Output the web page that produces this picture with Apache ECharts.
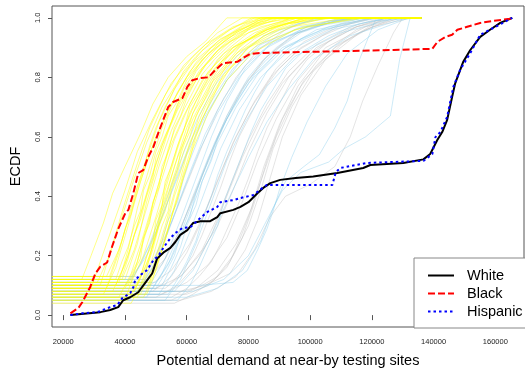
<!DOCTYPE html>
<html>
<head>
<meta charset="utf-8">
<script src="https://cdn.jsdelivr.net/npm/echarts@6/dist/echarts.min.js"></script>
<style>
html,body{margin:0;padding:0;background:#fff;}
#chart{width:525px;height:373px;}
</style>
</head>
<body>
<div id="chart"></div>
<script>
// x values are in thousands (potential demand / 1000)
const xTicks = [20, 40, 60, 80, 100, 120, 140, 160];
const yTicks = [0, 0.2, 0.4, 0.6, 0.8, 1.0];
const legendNames = ['White', 'Black', 'Hispanic'];

const whiteEcdf = [[22.3,0],[32,0.01],[35.2,0.017],[37.8,0.027],[39.4,0.05],[41.7,0.06],[44.3,0.077],[47.2,0.118],[48.8,0.14],[50.4,0.19],[52.4,0.21],[54.7,0.226],[56.3,0.246],[57.9,0.27],[60.2,0.286],[62.1,0.31],[64.4,0.316],[67.6,0.316],[69.9,0.33],[70.9,0.343],[75.1,0.354],[77.4,0.364],[80,0.38],[82.9,0.41],[84.8,0.428],[87.1,0.444],[90.3,0.455],[95.3,0.461],[101,0.466],[108.8,0.478],[117.2,0.495],[119.5,0.505],[130.2,0.512],[136.7,0.524],[138.9,0.542],[141.2,0.589],[142.8,0.616],[144.4,0.657],[146,0.734],[147,0.78],[149.6,0.852],[151.9,0.892],[155.1,0.936],[158.3,0.96],[161.6,0.983],[164.8,0.997],[165.5,1]];

const blackEcdf = [[22.3,0.006],[24.9,0.024],[26.2,0.044],[28.7,0.094],[30.4,0.14],[32,0.163],[34.2,0.177],[35.8,0.23],[37.8,0.29],[40.1,0.343],[41.1,0.354],[42.7,0.41],[44.3,0.478],[45.9,0.488],[47.5,0.532],[49.2,0.566],[50.8,0.613],[52.4,0.657],[54,0.70],[55.6,0.717],[58.6,0.73],[60.2,0.768],[61.8,0.79],[64.4,0.798],[67,0.80],[69.3,0.825],[71.8,0.848],[76.4,0.852],[78.3,0.865],[80.6,0.879],[83.8,0.882],[127,0.892],[139.6,0.896],[141.2,0.919],[143.8,0.936],[146,0.943],[147.7,0.96],[150.9,0.97],[155.1,0.983],[159.3,0.99],[164.8,0.997],[165.5,1]];

const hispanicEcdf = [[22.3,0],[26.2,0.006],[31,0.01],[35.2,0.027],[37.5,0.034],[39.1,0.057],[41.7,0.074],[42.7,0.094],[43.3,0.118],[45,0.135],[47.2,0.152],[49.2,0.185],[50.8,0.199],[52.4,0.226],[54.7,0.259],[56.3,0.276],[58.6,0.293],[61.2,0.296],[64.4,0.327],[66.7,0.347],[69.9,0.364],[70.9,0.38],[75.1,0.387],[77.4,0.394],[81.6,0.404],[84.8,0.43],[86,0.438],[107.2,0.438],[108.3,0.481],[109.8,0.495],[118.5,0.512],[136.7,0.519],[139.6,0.542],[140.6,0.599],[142.2,0.616],[144.4,0.667],[146.4,0.768],[148.6,0.825],[151.9,0.882],[155.1,0.943],[159.3,0.966],[163.2,0.987],[164.8,0.997],[165.5,1]];

const yellowRuns = [
 [[16.3,0.12],[26,0.12],[29,0.2],[33,0.31],[36,0.41],[40,0.5],[45,0.61],[49,0.71],[54,0.8],[60,0.87],[66,0.92],[73,1],[136,1]],
 [[16.3,0.09],[29,0.09],[32,0.18],[36,0.3],[40,0.42],[44,0.55],[49,0.66],[55,0.78],[62,0.87],[70,0.95],[78,1],[136,1]],
 [[16.3,0.11],[31,0.11],[35,0.2],[39,0.33],[43,0.46],[47,0.58],[52,0.7],[58,0.8],[65,0.89],[74,0.96],[82,1],[136,1]],
 [[16.3,0.07],[33,0.07],[37,0.16],[41,0.3],[45,0.45],[49,0.57],[54,0.69],[60,0.8],[67,0.88],[76,0.95],[85,1],[136,1]],
 [[16.3,0.13],[34,0.13],[38,0.22],[42,0.35],[46,0.48],[50,0.6],[55,0.71],[61,0.82],[68,0.9],[77,0.96],[88,1],[136,1]],
 [[16.3,0.08],[36,0.08],[40,0.17],[44,0.3],[48,0.44],[52,0.57],[57,0.69],[63,0.8],[70,0.89],[80,0.96],[90,1],[136,1]],
 [[16.3,0.1],[37,0.1],[41,0.2],[45,0.34],[49,0.48],[53,0.6],[58,0.72],[64,0.82],[71,0.9],[81,0.97],[92,1],[136,1]],
 [[16.3,0.06],[38,0.06],[42,0.14],[46,0.27],[50,0.41],[54,0.55],[59,0.67],[65,0.79],[72,0.88],[82,0.95],[94,1],[136,1]],
 [[16.3,0.12],[39,0.12],[43,0.22],[47,0.36],[51,0.5],[55,0.62],[60,0.74],[66,0.84],[74,0.92],[84,0.97],[96,1],[136,1]],
 [[16.3,0.09],[40,0.09],[44,0.18],[48,0.32],[52,0.46],[56,0.59],[61,0.71],[67,0.82],[75,0.9],[86,0.96],[98,1],[136,1]],
 [[16.3,0.05],[41,0.05],[45,0.13],[49,0.26],[53,0.4],[57,0.53],[62,0.66],[68,0.78],[76,0.88],[87,0.95],[100,1],[136,1]],
 [[16.3,0.11],[42,0.11],[46,0.2],[50,0.33],[54,0.47],[58,0.6],[63,0.72],[69,0.83],[77,0.91],[88,0.97],[102,1],[136,1]],
 [[16.3,0.08],[43,0.08],[47,0.17],[51,0.3],[55,0.44],[59,0.57],[64,0.69],[70,0.8],[78,0.89],[90,0.96],[105,1],[136,1]],
 [[16.3,0.1],[44,0.1],[48,0.2],[52,0.35],[56,0.5],[60,0.63],[65,0.75],[71,0.85],[79,0.92],[92,0.98],[108,1],[136,1]],
 [[16.3,0.07],[45,0.07],[49,0.16],[53,0.3],[57,0.45],[61,0.58],[66,0.7],[72,0.81],[80,0.9],[94,0.97],[112,1],[136,1]],
 [[16.3,0.13],[35,0.13],[39,0.25],[43,0.4],[47,0.53],[51,0.65],[56,0.76],[62,0.85],[70,0.92],[79,0.98],[86,1],[136,1]],
 [[16.3,0.06],[46,0.06],[50,0.15],[54,0.29],[58,0.43],[62,0.56],[67,0.68],[73,0.79],[81,0.88],[95,0.96],[115,1],[136,1]],
 [[16.3,0.1],[32,0.1],[36,0.24],[40,0.38],[44,0.51],[48,0.63],[53,0.74],[59,0.84],[66,0.91],[75,0.97],[84,1],[136,1]],
 [[16.3,0.09],[47,0.09],[51,0.19],[55,0.33],[59,0.48],[63,0.61],[68,0.73],[74,0.83],[83,0.91],[98,0.97],[118,1],[136,1]],
 [[16.3,0.12],[40,0.12],[44,0.24],[47,0.38],[51,0.52],[55,0.65],[59,0.76],[65,0.86],[73,0.93],[83,0.98],[95,1],[136,1]],
 [[16.3,0.04],[42,0.04],[46,0.12],[50,0.27],[53,0.42],[57,0.56],[61,0.68],[67,0.8],[75,0.9],[86,0.96],[99,1],[136,1]],
 [[16.3,0.11],[38,0.11],[41,0.22],[44,0.36],[48,0.5],[52,0.63],[57,0.75],[63,0.85],[71,0.93],[81,0.98],[90,1],[136,1]],
 [[16.3,0.1],[41,0.1],[43,0.15],[45,0.19],[46,0.26],[48,0.31],[49,0.38],[51,0.43],[52,0.5],[54,0.55],[56,0.63],[58,0.67],[60,0.73],[63,0.79],[65,0.83],[69,0.88],[73,0.92],[79,0.96],[86,1],[136,1]],
 [[16.3,0.08],[43,0.08],[45,0.13],[47,0.2],[49,0.24],[50,0.32],[52,0.37],[53,0.45],[55,0.5],[57,0.57],[59,0.62],[61,0.7],[64,0.75],[67,0.81],[70,0.86],[74,0.9],[80,0.95],[88,0.98],[94,1],[136,1]],
 [[16.3,0.12],[37,0.12],[39,0.18],[41,0.23],[43,0.3],[45,0.35],[46,0.42],[48,0.47],[50,0.55],[52,0.6],[54,0.67],[57,0.72],[60,0.79],[63,0.83],[67,0.88],[72,0.93],[78,0.97],[84,1],[136,1]],
 [[16.3,0.06],[44,0.06],[46,0.11],[48,0.16],[50,0.23],[52,0.3],[54,0.35],[55,0.42],[57,0.48],[59,0.55],[61,0.6],[63,0.67],[66,0.73],[69,0.8],[73,0.85],[77,0.9],[83,0.95],[91,0.98],[100,1],[136,1]],
 [[16.3,0.1],[45,0.1],[47,0.16],[49,0.22],[51,0.3],[53,0.35],[55,0.43],[57,0.49],[58,0.55],[60,0.61],[62,0.68],[65,0.73],[68,0.79],[71,0.84],[75,0.89],[80,0.93],[87,0.97],[96,1],[136,1]],
 [[16.3,0.13],[39,0.13],[41,0.19],[43,0.27],[45,0.32],[47,0.4],[49,0.46],[50,0.53],[52,0.58],[55,0.65],[57,0.71],[60,0.76],[63,0.82],[67,0.87],[71,0.91],[76,0.95],[83,0.99],[88,1],[136,1]],
 [[16.3,0.07],[47,0.07],[49,0.12],[51,0.19],[53,0.25],[55,0.33],[57,0.39],[59,0.47],[61,0.53],[63,0.6],[65,0.66],[68,0.72],[71,0.79],[75,0.84],[79,0.89],[85,0.94],[93,0.98],[103,1],[136,1]],
 [[16.3,0.09],[34,0.09],[36,0.15],[38,0.21],[40,0.29],[42,0.34],[44,0.43],[46,0.49],[48,0.57],[50,0.63],[53,0.7],[56,0.76],[59,0.82],[63,0.87],[68,0.92],[74,0.96],[81,1],[136,1]],
 [[16.3,0.11],[48,0.11],[50,0.18],[52,0.25],[54,0.32],[56,0.4],[58,0.46],[60,0.54],[62,0.6],[64,0.67],[67,0.73],[70,0.79],[73,0.84],[77,0.89],[82,0.93],[89,0.97],[98,1],[136,1]],
 [[16.3,0.05],[40,0.05],[42,0.11],[44,0.18],[46,0.26],[48,0.33],[50,0.41],[52,0.48],[54,0.56],[56,0.62],[59,0.69],[62,0.75],[65,0.81],[69,0.86],[74,0.91],[80,0.96],[88,1],[136,1]]
];

const blueRuns = [
 [[16.3,0.1],[40,0.1],[45,0.17],[50,0.28],[55,0.41],[60,0.54],[66,0.67],[73,0.79],[82,0.89],[95,0.96],[110,1],[136,1]],
 [[16.3,0.08],[44,0.08],[49,0.16],[54,0.28],[59,0.42],[64,0.55],[70,0.68],[77,0.8],[86,0.9],[99,0.97],[115,1],[136,1]],
 [[16.3,0.12],[42,0.12],[47,0.2],[52,0.33],[57,0.47],[62,0.6],[68,0.72],[75,0.83],[84,0.91],[97,0.97],[112,1],[136,1]],
 [[16.3,0.06],[47,0.06],[52,0.14],[57,0.26],[62,0.4],[67,0.53],[73,0.66],[80,0.78],[89,0.88],[102,0.96],[120,1],[136,1]],
 [[16.3,0.11],[46,0.11],[51,0.2],[56,0.34],[61,0.48],[66,0.61],[72,0.73],[79,0.84],[88,0.92],[101,0.97],[118,1],[136,1]],
 [[16.3,0.09],[49,0.09],[54,0.17],[59,0.3],[64,0.44],[69,0.58],[75,0.7],[82,0.81],[91,0.9],[104,0.96],[122,1],[136,1]],
 [[16.3,0.07],[51,0.07],[56,0.15],[61,0.28],[66,0.42],[71,0.56],[77,0.69],[84,0.8],[93,0.89],[107,0.96],[125,1],[136,1]],
 [[16.3,0.13],[43,0.13],[48,0.24],[53,0.38],[58,0.52],[63,0.65],[69,0.77],[76,0.87],[85,0.94],[96,0.98],[106,1],[136,1]],
 [[16.3,0.05],[53,0.05],[58,0.12],[63,0.24],[68,0.38],[73,0.52],[79,0.65],[86,0.77],[95,0.87],[110,0.95],[128,1],[136,1]],
 [[16.3,0.1],[48,0.1],[53,0.19],[58,0.32],[63,0.46],[68,0.6],[73,0.72],[79,0.83],[87,0.91],[99,0.97],[114,1],[136,1]],
 [[16.3,0.08],[56,0.08],[62,0.15],[68,0.27],[74,0.4],[80,0.53],[86,0.65],[93,0.76],[101,0.86],[113,0.94],[131,1],[136,1]],
 [[16.3,0.1],[64,0.1],[75,0.11],[79.6,0.15],[83,0.22],[86,0.29],[88,0.35],[90,0.42],[94,0.53],[99,0.65],[105,0.77],[112,0.88],[122,0.96],[132,1],[136,1]],
 [[16.3,0.06],[60,0.06],[70,0.09],[78,0.15],[84,0.25],[88,0.36],[92,0.45],[98,0.5],[103,0.54],[108,0.63],[112,0.72],[116,0.86],[121,0.99],[136,1]],
 [[16.3,0.08],[62,0.08],[72,0.12],[80,0.2],[86,0.32],[91,0.42],[97,0.48],[106,0.515],[111,0.56],[118,0.6],[126,0.67],[129,0.86],[132.4,1],[136,1]],
 [[16.3,0.11],[50,0.11],[55,0.19],[60,0.31],[65,0.45],[70,0.58],[76,0.7],[83,0.81],[92,0.9],[105,0.96],[119,1],[136,1]],
 [[16.3,0.09],[50,0.09],[53,0.14],[56,0.2],[58,0.27],[61,0.33],[63,0.41],[65,0.47],[68,0.54],[70,0.6],[73,0.67],[76,0.73],[80,0.8],[84,0.85],[89,0.9],[96,0.95],[105,0.98],[116,1],[136,1]],
 [[16.3,0.12],[46,0.12],[49,0.18],[52,0.25],[54,0.32],[57,0.38],[59,0.46],[61,0.52],[64,0.6],[66,0.66],[69,0.72],[73,0.79],[77,0.85],[82,0.9],[88,0.94],[96,0.98],[104,1],[136,1]],
 [[16.3,0.07],[54,0.07],[57,0.12],[60,0.18],[63,0.25],[65,0.32],[68,0.4],[70,0.47],[73,0.55],[76,0.62],[79,0.69],[82,0.75],[86,0.82],[91,0.88],[97,0.93],[106,0.97],[117,1],[136,1]],
 [[16.3,0.1],[52,0.1],[55,0.16],[58,0.23],[60,0.3],[63,0.37],[65,0.45],[68,0.52],[70,0.59],[73,0.66],[76,0.72],[80,0.79],[85,0.85],[90,0.9],[97,0.95],[108,0.99],[113,1],[136,1]],
 [[16.3,0.05],[57,0.05],[61,0.1],[64,0.16],[67,0.23],[70,0.3],[72,0.38],[75,0.46],[78,0.54],[81,0.62],[84,0.69],[88,0.76],[92,0.83],[98,0.89],[106,0.94],[116,0.98],[126,1],[136,1]]
];

const greyRuns = [
 [[16.3,0.09],[50,0.09],[58,0.13],[64,0.2],[70,0.3],[75,0.42],[80,0.55],[86,0.68],[93,0.8],[102,0.9],[115,0.97],[128,1],[136,1]],
 [[16.3,0.07],[52,0.07],[60,0.11],[67,0.17],[73,0.26],[78,0.38],[83,0.52],[89,0.66],[96,0.79],[105,0.9],[118,0.97],[130,1],[136,1]],
 [[16.3,0.1],[48,0.1],[55,0.15],[61,0.24],[66,0.35],[71,0.48],[76,0.6],[82,0.72],[89,0.83],[98,0.92],[110,0.98],[122,1],[136,1]],
 [[16.3,0.05],[55,0.05],[63,0.09],[70,0.15],[76,0.24],[81,0.36],[85,0.5],[90,0.64],[96,0.77],[104,0.88],[115,0.96],[126,1],[136,1]],
 [[16.3,0.11],[46,0.11],[52,0.17],[57,0.27],[62,0.39],[67,0.52],[72,0.64],[78,0.76],[85,0.86],[94,0.94],[106,0.99],[116,1],[136,1]],
 [[16.3,0.08],[58,0.08],[66,0.1],[74,0.14],[79,0.22],[83,0.32],[87,0.46],[91,0.6],[97,0.74],[105,0.86],[116,0.95],[127,1],[136,1]],
 [[16.3,0.06],[50,0.06],[57,0.1],[63,0.17],[68,0.27],[73,0.4],[78,0.53],[84,0.66],[91,0.78],[100,0.88],[112,0.96],[124,1],[136,1]],
 [[16.3,0.12],[47,0.12],[53,0.19],[58,0.29],[63,0.42],[68,0.55],[73,0.67],[79,0.78],[86,0.87],[96,0.95],[108,0.99],[118,1],[136,1]],
 [[16.3,0.04],[56,0.04],[62,0.07],[69,0.12],[75,0.2],[80,0.3],[84,0.42],[88,0.56],[94,0.7],[101,0.82],[111,0.92],[124,1],[136,1]],
 [[16.3,0.09],[53,0.09],[59,0.14],[65,0.22],[70,0.33],[75,0.46],[80,0.59],[86,0.71],[93,0.82],[102,0.91],[113,0.97],[123,1],[136,1]],
 [[16.3,0.13],[45,0.13],[50,0.2],[55,0.31],[60,0.44],[65,0.57],[70,0.69],[76,0.8],[83,0.89],[92,0.96],[102,1],[136,1]],
 [[16.3,0.07],[60,0.07],[67,0.1],[73,0.16],[78,0.26],[82,0.38],[86,0.52],[91,0.66],[98,0.79],[108,0.9],[120,0.97],[133,1],[136,1]],
 [[16.3,0.08],[49,0.08],[55,0.13],[60,0.21],[65,0.32],[70,0.45],[75,0.58],[81,0.7],[88,0.81],[97,0.9],[109,0.97],[120,1],[136,1]],
 [[16.3,0.05],[58,0.05],[68,0.08],[76,0.13],[82,0.22],[87,0.33],[92,0.4],[100,0.44],[108,0.5],[113,0.6],[117,0.72],[122,0.84],[127,0.95],[130,1],[136,1]],
 [[16.3,0.06],[55,0.06],[60,0.09],[64,0.13],[68,0.18],[71,0.24],[74,0.31],[77,0.38],[80,0.46],[83,0.55],[86,0.63],[90,0.71],[94,0.79],[99,0.86],[106,0.92],[115,0.97],[125,1],[136,1]],
 [[16.3,0.1],[54,0.1],[58,0.14],[62,0.2],[65,0.27],[68,0.35],[71,0.43],[74,0.52],[77,0.6],[81,0.68],[85,0.76],[90,0.83],[96,0.89],[104,0.94],[113,0.98],[121,1],[136,1]],
 [[16.3,0.08],[60,0.08],[65,0.1],[70,0.13],[74,0.18],[77,0.25],[80,0.33],[83,0.42],[86,0.51],[89,0.6],[93,0.69],[97,0.77],[102,0.84],[109,0.91],[118,0.96],[129,1],[136,1]]
];

const chart = echarts.init(document.getElementById('chart'), null, {renderer: 'canvas'});

function bgSeries(runs, color, opacity) {
  return runs.map(function (run) {
    return {
      type: 'line', data: run, showSymbol: false, symbol: 'none', silent: true, z: 1,
      lineStyle: {color: color, width: 1, opacity: opacity},
      emphasis: {disabled: true}
    };
  });
}

const series = [].concat(
  bgSeries(greyRuns, '#bebebe', 0.42),
  bgSeries(blueRuns, '#87ceeb', 0.42),
  bgSeries(yellowRuns, '#ffff00', 0.47),
  [
    {name: legendNames[0], type: 'line', data: whiteEcdf, symbol: 'none', z: 5,
     lineStyle: {color: '#000000', width: 2, type: 'solid'}, itemStyle: {color: '#000000'}},
    {name: legendNames[1], type: 'line', data: blackEcdf, symbol: 'none', z: 5,
     lineStyle: {color: '#ff0000', width: 2, type: [7, 3]}, itemStyle: {color: '#ff0000'}},
    {name: legendNames[2], type: 'line', data: hispanicEcdf, symbol: 'none', z: 6,
     lineStyle: {color: '#0000ff', width: 2, type: [2.5, 3]}, itemStyle: {color: '#0000ff'}}
  ]
);

chart.setOption({
  animation: false,
  backgroundColor: '#ffffff',
  textStyle: {fontFamily: 'Liberation Sans'},
  grid: {left: 52, right: 1, top: 6, bottom: 46, show: true, borderColor: '#555555', borderWidth: 1, backgroundColor: 'transparent'},
  xAxis: {
    type: 'value', min: 16.34, max: 169.3,
    name: 'Potential demand at near-by testing sites', nameLocation: 'middle', nameGap: 26,
    nameTextStyle: {fontSize: 14.5, color: '#000', fontFamily: 'Liberation Sans'},
    axisLine: {show: false},
    axisTick: {show: true, customValues: xTicks, length: 5, lineStyle: {color: '#555555'}},
    axisLabel: {customValues: xTicks, fontSize: 7.5, color: '#222', margin: 11,
      formatter: function (v) { return String(Math.round(v * 1000)); }},
    splitLine: {show: false}
  },
  yAxis: {
    type: 'value', min: -0.04, max: 1.04,
    name: 'ECDF', nameLocation: 'middle', nameGap: 29, nameRotate: 90,
    nameTextStyle: {fontSize: 14.5, color: '#000', fontFamily: 'Liberation Sans'},
    axisLine: {show: false},
    axisTick: {show: true, customValues: yTicks, length: 4, lineStyle: {color: '#555555'}},
    axisLabel: {customValues: yTicks, fontSize: 7.5, color: '#222', margin: 10, rotate: 90,
      formatter: function (v) { return v.toFixed(1); }},
    splitLine: {show: false}
  },
  legend: {
    data: legendNames, orient: 'vertical', left: 414, top: 258,
    padding: [10, 8, 9, 13], itemGap: 3, itemWidth: 26, itemHeight: 14,
    borderColor: '#888888', borderWidth: 1, backgroundColor: '#ffffff',
    itemStyle: {color: 'rgba(0,0,0,0)', borderWidth: 0, opacity: 0},
    textStyle: {fontSize: 14.5, color: '#000', padding: [0, 0, 0, 8]},
    selectedMode: false
  },
  series: series
});
</script>
</body>
</html>
